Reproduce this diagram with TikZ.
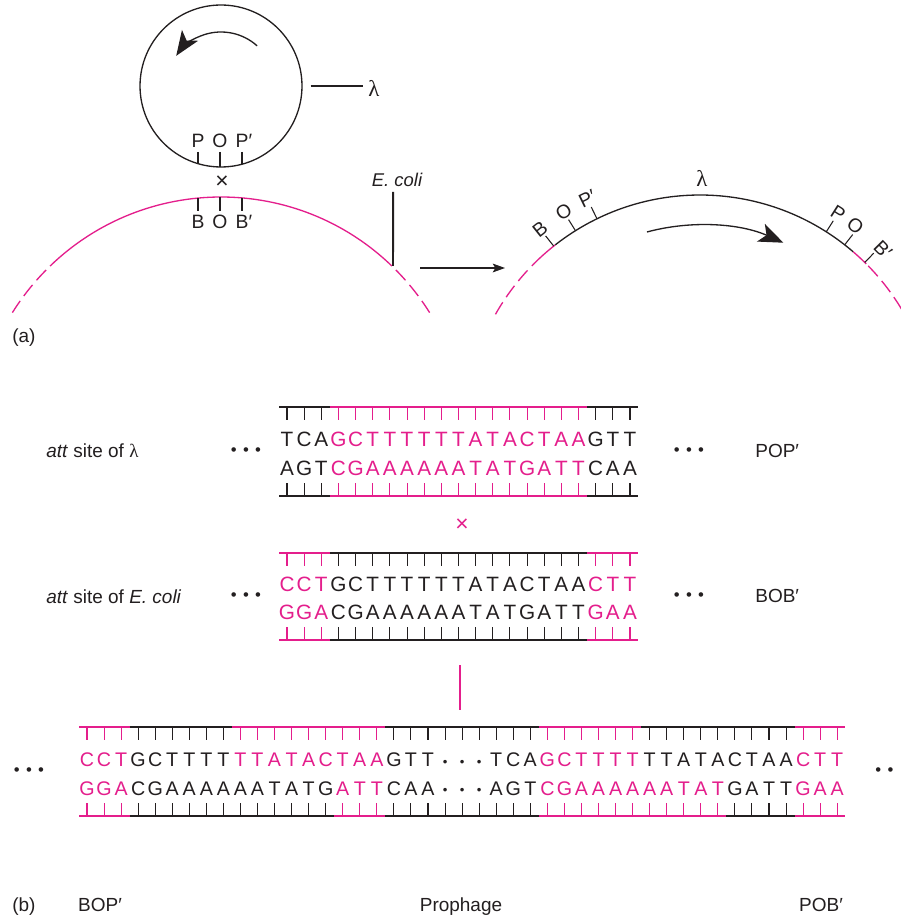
\documentclass[tikz,border=0pt]{standalone}
\usepackage{fontspec}
\setmainfont{Liberation Sans}
\newfontfamily\greekfont{Liberation Serif}
\usepackage{tikz}
\usetikzlibrary{arrows.meta, positioning}
\definecolor{inkblack}{RGB}{35,31,32}
\definecolor{attpink}{RGB}{228,30,140}

\newcommand{\lam}{{\greekfont λ}}
\newcommand{\threedots}{•\hspace{3.6pt}•\hspace{3.6pt}•}
\newcommand{\bases}[4]{\foreach \ch [count=\k from #1] in {#4}
    {\node[nt, text=#3] (s#2-\k) at ({\xo+\k*\dx}, #2) {\ch};}}
\newcommand{\rungs}[5]{\foreach \k in {#1,...,#2}
    {\draw[rung, #5] ({\xo+\k*\dx}, #3) -- ++(0, #4);}}
\newcommand{\backbone}[4]{\draw[strand, #4] ({\xo+#1*\dx}, #3) -- ({\xo+#2*\dx}, #3);}

\begin{document}
\begin{tikzpicture}[x=0.02cm, y=-0.02cm,
    chrom/.style={line width=0.75pt, draw=inkblack},
    host/.style={line width=0.75pt, draw=attpink},
    hostgap/.style={host, dash pattern=on 8pt off 3.5pt},
    notch/.style={line width=0.6pt, draw=inkblack},
    pointer/.style={line width=1.1pt, draw=inkblack},
    bigarr/.style={line width=0.75pt, draw=inkblack,
                   -{Stealth[length=14pt, width=11pt, inset=3.5pt]}},
    arr/.style={line width=0.6pt, draw=inkblack,
                -{Stealth[length=7pt, width=5pt, inset=1.5pt]}},
    site/.style={font=\fontsize{11}{13}\selectfont, text=inkblack, inner sep=0},
    tag/.style={font=\fontsize{10.8}{13}\selectfont, text=inkblack, inner sep=0,
                anchor=base west},
    nt/.style={font=\fontsize{11.8}{14}\selectfont, inner sep=0, anchor=base},
    rung/.style={line width=0.6pt},
    strand/.style={line width=0.7pt},
    dots/.style={font=\fontsize{9.5}{10}\selectfont, text=inkblack, inner sep=0}
  ]
  \fill[white] (0,0) rectangle (901,918);
  \useasboundingbox (0,0) rectangle (901,918);

  % (a) lambda circle lining up with the E. coli chromosome
  \node[circle, draw=inkblack, line width=0.75pt, minimum size=3.24cm, inner sep=0]
    (phage) at (221,86) {};
  \draw[bigarr] (phage.center) ++(-48:54) arc[start angle=-48, end angle=-146, radius=54];
  \node[site, anchor=west, font=\fontsize{13}{15}\selectfont\greekfont] (lamtag) at (368,88) {λ};
  \draw[pointer] ([xshift=4.5pt]phage.east) -- ([xshift=-3pt]lamtag.west |- phage.east);

  \draw[notch] (198,152) -- (198,164);
  \draw[notch] (220,152) -- (220,167);
  \draw[notch] (242,152) -- (242,164);
  \node[site, anchor=base] (pP)  at (198,148) {P};
  \node[site, anchor=base] (pO)  at (220,148) {O};
  \node[site, anchor=base] (pPp) at (244,148) {P′};
  \node[site, font=\fontsize{13}{13}\selectfont] (cross) at (222,182) {×};

  \coordinate (ecolic) at (221,443);
  \draw[hostgap] (ecolic) ++(-148:246) arc[start angle=-148, end angle=-134, radius=246];
  \draw[host] (ecolic) ++(-134:246) arc[start angle=-134, end angle=-46, radius=246];
  \draw[hostgap] (ecolic) ++(-32:246) arc[start angle=-32, end angle=-46, radius=246];
  \draw[notch] (198,198) -- (198,211);
  \draw[notch] (220,197) -- (220,211);
  \draw[notch] (242,198) -- (242,211);
  \node[site, anchor=base] (bB)  at (198,229) {B};
  \node[site, anchor=base] (bO)  at (220,229) {O};
  \node[site, anchor=base] (bBp) at (244,229) {B′};

  \node[site, anchor=base, font=\fontsize{10.5}{12}\selectfont\itshape] (ecolitag) at (397,187) {E. coli};
  \coordinate (ecolisite) at (393,266);
  \draw[pointer] ([xshift=-2.2pt, yshift=-2.5pt]ecolitag.south) -- (ecolisite);

  \coordinate (fromhere) at (420,268);
  \coordinate (tohere) at (505,268);
  \draw[arr] (fromhere) -- (tohere);

  % integrated prophage
  \coordinate (hostc) at (700,430);
  \draw[hostgap] (hostc) ++(-150.5:235) arc[start angle=-150.5, end angle=-135, radius=235];
  \draw[host] (hostc) ++(-135:235) arc[start angle=-135, end angle=-128, radius=235];
  \draw[chrom] (hostc) ++(-128:235) arc[start angle=-128, end angle=-49.3, radius=235];
  \draw[host] (hostc) ++(-49.3:235) arc[start angle=-49.3, end angle=-45, radius=235];
  \draw[hostgap] (hostc) ++(-31:235) arc[start angle=-31, end angle=-45, radius=235];
  \foreach \a/\b/\t/\n in {128.5/128.5/B/hB, 122/122/O/hO, 116/116/{P′}/hPp,
                           57.5/57.5/P/hP, 52/52.8/O/hOr, 45.5/44.6/{B′}/hBp}{
    \draw[notch] (hostc) ++(-\a:235) -- ++(-\a:13);
    \path (hostc) ++(-\b:257) node[site, rotate=\b-90] (\n) {\t};
  }
  \node[site, font=\fontsize{13}{15}\selectfont\greekfont] (lamtop) at (702,178) {λ};
  \draw[bigarr] (hostc) ++(-105:205) arc[start angle=-105, end angle=-66, radius=205];

  \node[tag] (parta) at (12,342) {(a)};

  % (b) att sites
  \node[tag] (attlam) at (46,457) {\textit{att} site of \lam};
  \node[tag] (attcoli) at (46,603) {\textit{att} site of \textit{E. coli}};
  \node[dots] (dotsl1) at (246,452) {\threedots};
  \node[dots] (dotsl2) at (246,597) {\threedots};
  \node[dots] (dotsr1) at (689,452) {\threedots};
  \node[dots] (dotsr2) at (689,597) {\threedots};
  \node[tag] (pop) at (755,457) {POP′};
  \node[tag] (bob) at (755,602) {BOB′};

  \def\xo{287}\def\dx{17.15}
  \backbone{-0.45}{2.5}{407}{inkblack}
  \backbone{2.5}{17.5}{407}{attpink}
  \backbone{17.5}{20.45}{407}{inkblack}
  \rungs{0}{2}{407}{13}{inkblack}
  \rungs{3}{17}{407}{13}{attpink}
  \rungs{18}{20}{407}{13}{inkblack}
  \bases{0}{446}{inkblack}{T,C,A}
  \bases{3}{446}{attpink}{G,C,T,T,T,T,T,T,A,T,A,C,T,A,A}
  \bases{18}{446}{inkblack}{G,T,T}
  \bases{0}{475}{inkblack}{A,G,T}
  \bases{3}{475}{attpink}{C,G,A,A,A,A,A,A,T,A,T,G,A,T,T}
  \bases{18}{475}{inkblack}{C,A,A}
  \rungs{0}{2}{496}{-13}{inkblack}
  \rungs{3}{17}{496}{-13}{attpink}
  \rungs{18}{20}{496}{-13}{inkblack}
  \backbone{-0.45}{2.5}{496}{inkblack}
  \backbone{2.5}{17.5}{496}{attpink}
  \backbone{17.5}{20.45}{496}{inkblack}

  \node[site, text=attpink, font=\fontsize{13}{13}\selectfont] (crossb) at (462,525) {×};

  \backbone{-0.45}{2.5}{553}{attpink}
  \backbone{2.5}{17.5}{553}{inkblack}
  \backbone{17.5}{20.45}{553}{attpink}
  \rungs{0}{2}{553}{13}{attpink}
  \rungs{3}{17}{553}{13}{inkblack}
  \rungs{18}{20}{553}{13}{attpink}
  \bases{0}{591}{attpink}{C,C,T}
  \bases{3}{591}{inkblack}{G,C,T,T,T,T,T,T,A,T,A,C,T,A,A}
  \bases{18}{591}{attpink}{C,T,T}
  \bases{0}{619}{attpink}{G,G,A}
  \bases{3}{619}{inkblack}{C,G,A,A,A,A,A,A,T,A,T,G,A,T,T}
  \bases{18}{619}{attpink}{G,A,A}
  \rungs{0}{2}{640}{-13}{attpink}
  \rungs{3}{17}{640}{-13}{inkblack}
  \rungs{18}{20}{640}{-13}{attpink}
  \backbone{-0.45}{2.5}{640}{attpink}
  \backbone{2.5}{17.5}{640}{inkblack}
  \backbone{17.5}{20.45}{640}{attpink}

  \coordinate (bartop) at (460,665);
  \coordinate (barbottom) at (460,710);
  \draw[line width=1.1pt, attpink] (bartop) -- (barbottom);

  % recombinant: BOP' ... prophage ... POB'
  \begin{scope}[nt/.append style={font=\fontsize{11.2}{13}\selectfont}]
  \def\xo{87}\def\dx{17.05}
  \backbone{-0.45}{2.5}{727}{attpink}
  \backbone{2.5}{8.5}{727}{inkblack}
  \backbone{8.5}{17.5}{727}{attpink}
  \backbone{17.5}{26.5}{727}{inkblack}
  \backbone{26.5}{32.5}{727}{attpink}
  \backbone{32.5}{41.5}{727}{inkblack}
  \backbone{41.5}{44.45}{727}{attpink}
  \rungs{0}{2}{727}{13}{attpink}
  \rungs{3}{8}{727}{13}{inkblack}
  \rungs{9}{17}{727}{13}{attpink}
  \rungs{18}{26}{727}{13}{inkblack}
  \rungs{27}{32}{727}{13}{attpink}
  \rungs{33}{41}{727}{13}{inkblack}
  \rungs{42}{44}{727}{13}{attpink}
  \bases{0}{766}{attpink}{C,C,T}
  \bases{3}{766}{inkblack}{G,C,T,T,T,T}
  \bases{9}{766}{attpink}{T,T,A,T,A,C,T,A,A}
  \bases{18}{766}{inkblack}{G,T,T}
  \bases{24}{766}{inkblack}{T,C,A}
  \bases{27}{766}{attpink}{G,C,T,T,T,T}
  \bases{33}{766}{inkblack}{T,T,A,T,A,C,T,A,A}
  \bases{42}{766}{attpink}{C,T,T}
  \bases{0}{795}{attpink}{G,G,A}
  \bases{3}{795}{inkblack}{C,G,A,A,A,A,A,A,T,A,T,G}
  \bases{15}{795}{attpink}{A,T,T}
  \bases{18}{795}{inkblack}{C,A,A}
  \bases{24}{795}{inkblack}{A,G,T}
  \bases{27}{795}{attpink}{C,G,A,A,A,A,A,A,T,A,T}
  \bases{38}{795}{inkblack}{G,A,T,T}
  \bases{42}{795}{attpink}{G,A,A}
  \foreach \k in {21,22,23}{
    \node[dots, font=\fontsize{7.5}{8}\selectfont] (gapa-\k) at ({\xo+\k*\dx}, 763) {•};
    \node[dots, font=\fontsize{7.5}{8}\selectfont] (gapb-\k) at ({\xo+\k*\dx}, 791) {•};
  }
  \rungs{0}{2}{816}{-13}{attpink}
  \rungs{3}{14}{816}{-13}{inkblack}
  \rungs{15}{17}{816}{-13}{attpink}
  \rungs{18}{26}{816}{-13}{inkblack}
  \rungs{27}{37}{816}{-13}{attpink}
  \rungs{38}{41}{816}{-13}{inkblack}
  \rungs{42}{44}{816}{-13}{attpink}
  \backbone{-0.45}{2.5}{816}{attpink}
  \backbone{2.5}{14.5}{816}{inkblack}
  \backbone{14.5}{17.5}{816}{attpink}
  \backbone{17.5}{26.5}{816}{inkblack}
  \backbone{26.5}{37.5}{816}{attpink}
  \backbone{37.5}{41.5}{816}{inkblack}
  \backbone{41.5}{44.45}{816}{attpink}
  \end{scope}

  \node[dots] (dotsl3) at (29,772) {\threedots};
  \node[dots, anchor=west] (dotsr3) at (875,772) {•\hspace{3.6pt}•};

  \node[tag] (partb) at (12,911) {(b)};
  \node[tag, anchor=base] (bop) at (100,911) {BOP′};
  \node[tag, anchor=base] (prophage) at (461,911) {Prophage};
  \node[tag, anchor=base] (pob) at (821,911) {POB′};
\end{tikzpicture}
\end{document}
